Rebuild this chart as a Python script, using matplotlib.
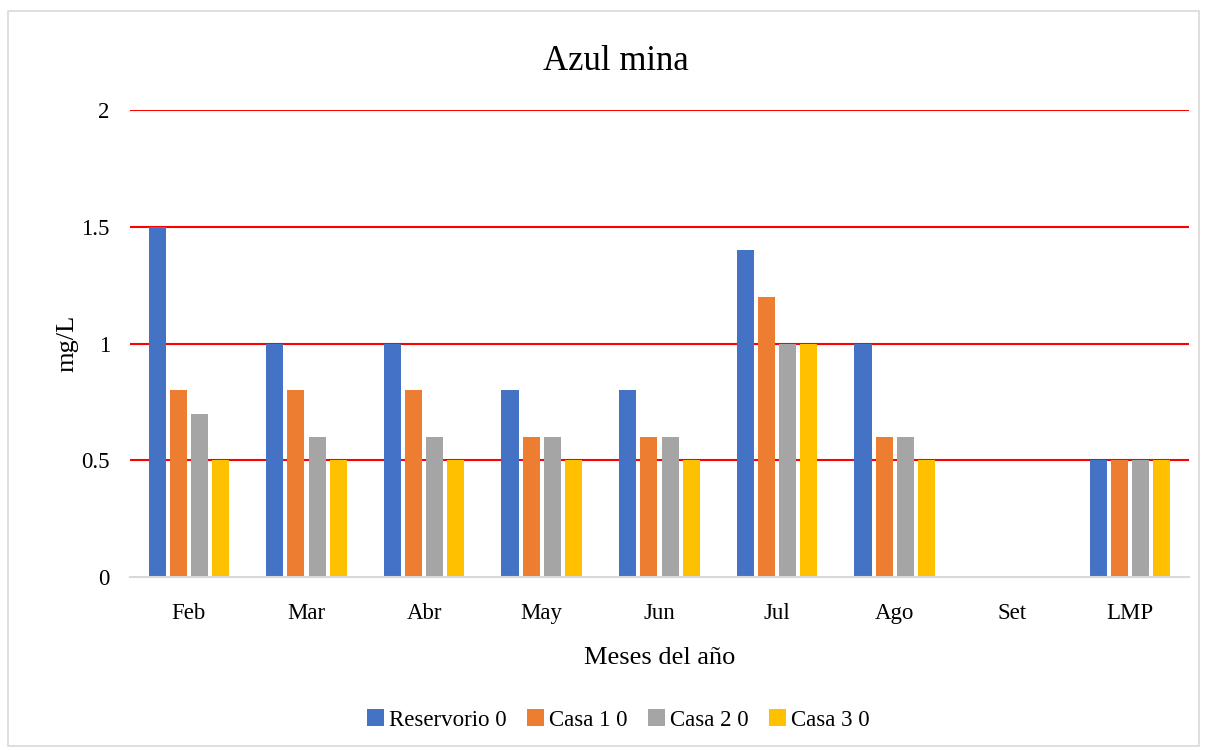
import numpy as np
import matplotlib.pyplot as plt
from matplotlib.patches import Rectangle

plt.rcParams['font.family'] = ['Liberation Serif', 'DejaVu Serif']

meses = ["Feb", "Mar", "Abr", "May", "Jun", "Jul", "Ago", "Set", "LMP"]
reservorio = [1.5, 1.0, 1.0, 0.8, 0.8, 1.4, 1.0, 0, 0.5]
casa1 = [0.8, 0.8, 0.8, 0.6, 0.6, 1.2, 0.6, 0, 0.5]
casa2 = [0.7, 0.6, 0.6, 0.6, 0.6, 1.0, 0.6, 0, 0.5]
casa3 = [0.5, 0.5, 0.5, 0.5, 0.5, 1.0, 0.5, 0, 0.5]

series = [("Reservorio 0", reservorio, "#4472C4"),
          ("Casa 1 0", casa1, "#ED7D31"),
          ("Casa 2 0", casa2, "#A5A5A5"),
          ("Casa 3 0", casa3, "#FFC000")]

fig = plt.figure(figsize=(12.07, 7.51), dpi=100)
ax = fig.add_axes([0.1077, 0.2317, 0.8773, 0.6218])

x = np.arange(len(meses))
w = 0.145
step = 0.18
for i, (name, vals, col) in enumerate(series):
    ax.bar(x + (i - 1.5) * step, vals, width=w, color=col, label=name, zorder=3)

ax.set_xlim(-0.5, len(meses) - 0.5)
ax.set_ylim(0, 2)
ax.set_yticks([0, 0.5, 1, 1.5, 2])
ax.set_yticklabels(["0", "0.5", "1", "1.5", "2"])
# red reference lines (not at zero, where the gray axis line sits)
for yv in [0.5, 1, 1.5, 2]:
    ax.axhline(yv, color="red", linewidth=1.5, zorder=1)
ax.set_xticks(x)
ax.set_xticklabels(meses)
ax.tick_params(axis="both", length=0, labelsize=16.5)
ax.tick_params(axis="x", pad=19)
ax.tick_params(axis="y", pad=14.5)
for s in ["top", "right", "left"]:
    ax.spines[s].set_visible(False)
ax.spines["bottom"].set_color("#d9d9d9")
ax.spines["bottom"].set_linewidth(1.5)
ax.spines["bottom"].set_zorder(4)

fig.text(0.5105, 1 - 62 / 751, "Azul mina", fontsize=25, ha="center", va="center")
ax.set_xlabel("Meses del año", fontsize=19, labelpad=16)
ax.set_ylabel("mg/L", fontsize=19, labelpad=2)

ax.legend(loc="center", bbox_to_anchor=(0.512, 1 - 720 / 751), bbox_transform=fig.transFigure,
          ncol=4, frameon=False, fontsize=16.5, handlelength=0.75, handleheight=0.75,
          handletextpad=0.2, columnspacing=0.9)

fig.patches.append(Rectangle((8 / 1207, 1 - 746 / 751), 1191 / 1207, 735 / 751,
                             transform=fig.transFigure, fill=False,
                             edgecolor="#d9d9d9", linewidth=1.2))

fig.savefig("out.png", dpi=100)
